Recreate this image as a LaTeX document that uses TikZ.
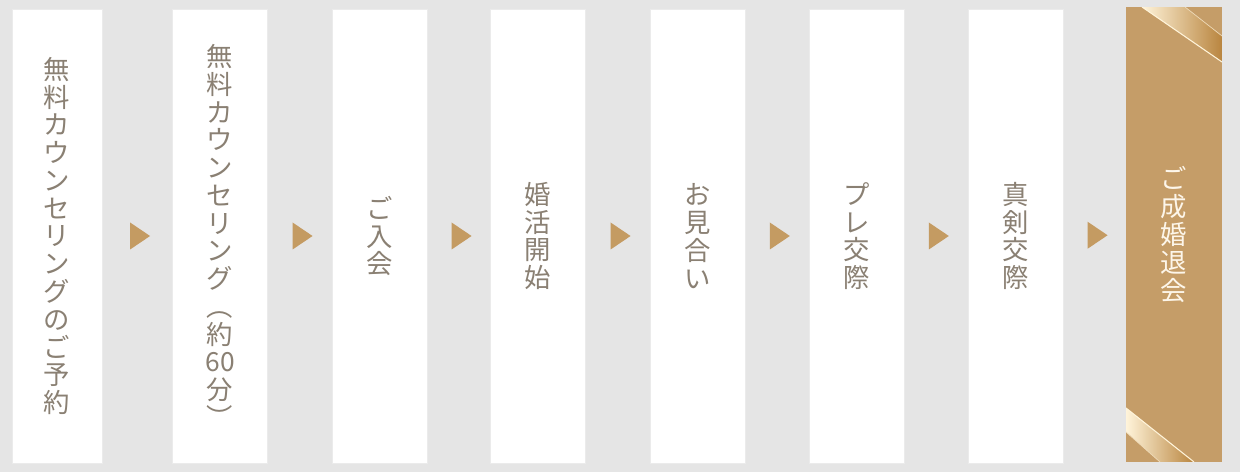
\documentclass[tikz,border=0pt]{standalone}
\usepackage{fontspec}
\newfontfamily\cjk{Noto Sans CJK JP}
\usetikzlibrary{shapes.geometric}

\definecolor{bggray}{HTML}{E5E5E5}
\definecolor{inkbrown}{HTML}{8A8073}
\definecolor{gold}{HTML}{C49B62}
\definecolor{goldbox}{HTML}{C59D68}
\definecolor{cream}{HTML}{FDF6EA}
\definecolor{ribbonlight}{HTML}{FFF4DA}
\definecolor{ribbondark}{HTML}{B9853F}

\tikzset{
  stepbox/.style={draw=black!8, fill=white, minimum width=1.9cm, minimum height=9.08cm,
    inner sep=0pt, align=center, text=inkbrown, font=\cjk\fontsize{15}{15.8}\selectfont},
  goalbox/.style={stepbox, draw=goldbox, fill=goldbox, text=cream},
  tri/.style={isosceles triangle, isosceles triangle stretches, fill=gold, inner sep=0pt,
    minimum width=0.54cm, minimum height=0.4cm}
}

\begin{document}
\begin{tikzpicture}[x=0.02cm, y=-0.02cm]
  \fill[bggray] (0,0) rectangle (1240,472);

  % steps
  \node[stepbox, minimum width=1.8cm] (s1) at (57,236) {無\\料\\カ\\ウ\\ン\\セ\\リ\\ン\\グ\\の\\ご\\予\\約};
  \node[stepbox] (s2) at (220,236) {無\\料\\カ\\ウ\\ン\\セ\\リ\\ン\\グ\\︵\\約\\60\\分\\︶};
  \node[stepbox] (s3) at (379.5,236) {ご\\入\\会};
  \node[stepbox] (s4) at (538,236) {婚\\活\\開\\始};
  \node[stepbox] (s5) at (697.5,236) {お\\見\\合\\い};
  \node[stepbox] (s6) at (856.5,236) {プ\\レ\\交\\際};
  \node[stepbox] (s7) at (1015.5,236) {真\\剣\\交\\際};
  \node[goalbox] (s8) at (1174,234.5) {ご\\成\\婚\\退\\会};

  % ribbon corners
  \begin{scope}
    \clip (s8.south west) rectangle (s8.north east);
    \shade[left color=ribbonlight, right color=ribbondark] (1142,7) -- (1185,7) -- (1222,36) -- (1222,62) -- cycle;
    \draw[ribbonlight, line width=0.6pt] (1142,7) -- (1222,62);
    \draw[ribbonlight!70!goldbox, line width=0.4pt] (1185,7) -- (1222,36);
    \shade[left color=ribbonlight, right color=ribbondark] (1126,408) -- (1194,462) -- (1160,462) -- (1126,432) -- cycle;
    \draw[ribbonlight, line width=0.6pt] (1126,408) -- (1194,462);
    \draw[ribbonlight!70!goldbox, line width=0.4pt] (1126,432) -- (1160,462);
  \end{scope}

  % arrows
  \foreach \a/\b in {s1/s2, s2/s3, s3/s4, s4/s5, s5/s6, s6/s7, s7/s8}
    \path (\a) -- (\b) node[midway, tri] (t\a) {};
\end{tikzpicture}
\end{document}
